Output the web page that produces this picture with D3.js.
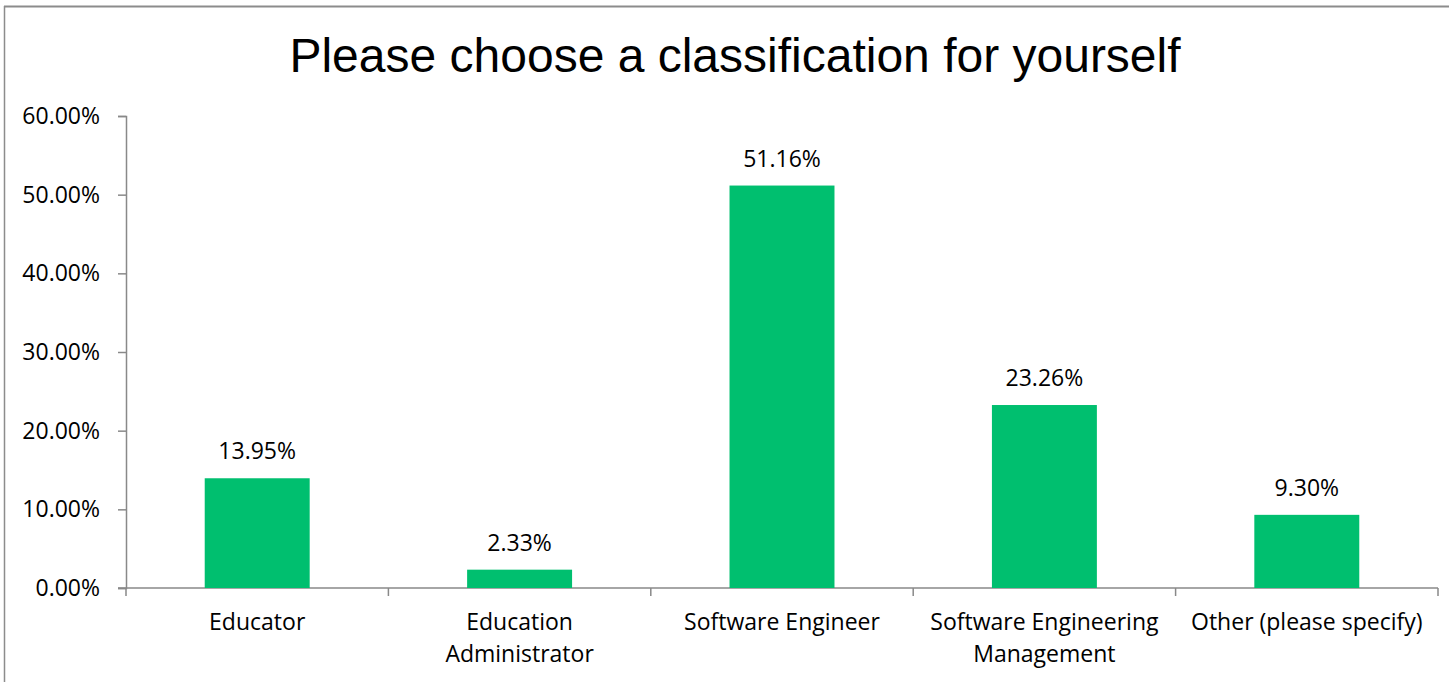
<!DOCTYPE html>
<html>
<head>
<meta charset="utf-8">
<script src="https://cdn.jsdelivr.net/npm/d3@7"></script>
<style>
  html, body { margin: 0; padding: 0; background: #fff; }
  svg { display: block; }
</style>
</head>
<body>
<svg id="chart" width="1449" height="682"></svg>
<script>
// Survey answers: share of respondents per classification
const categories = [
  ["Educator"],
  ["Education", "Administrator"],
  ["Software Engineer"],
  ["Software Engineering", "Management"],
  ["Other (please specify)"]
];
const values = [13.95, 2.33, 51.16, 23.26, 9.30];
const yTicks = [0, 10, 20, 30, 40, 50, 60];
const title = "Please choose a classification for yourself";

const svg = d3.select("#chart");
const W = 1449, H = 682;
const margin = { left: 126, right: 11, top: 116, bottom: 94 };
const labelFont = "'Open Sans', 'Noto Sans', sans-serif";
const labelSize = 23;
const barColor = "#00bf6f";
const axisColor = "#898989";

// chart frame (top and left edges visible)
svg.append("line").attr("x1", 4).attr("x2", W).attr("y1", 6.5).attr("y2", 6.5)
  .attr("stroke", "#8c8c8c").attr("stroke-width", 2);
svg.append("line").attr("x1", 4.5).attr("x2", 4.5).attr("y1", 6).attr("y2", H)
  .attr("stroke", "#8c8c8c").attr("stroke-width", 1.5);

// title
svg.append("text")
  .attr("x", 735).attr("y", 72)
  .attr("text-anchor", "middle")
  .attr("font-family", "'Liberation Sans', Arial, sans-serif")
  .attr("font-size", 48)
  .attr("fill", "#000")
  .text(title);

const x = d3.scaleBand()
  .domain(categories.map((d, i) => i))
  .range([margin.left, W - margin.right])
  .paddingInner(0.6).paddingOuter(0.3);

const y = d3.scaleLinear().domain([0, 60]).range([H - margin.bottom, margin.top]);

// y axis
const yAxis = d3.axisLeft(y).tickValues(yTicks).tickSize(8).tickPadding(18)
  .tickFormat(d => d.toFixed(2) + "%");
const gy = svg.append("g").attr("transform", `translate(${margin.left},0)`).call(yAxis);
gy.select(".domain").attr("stroke", axisColor).attr("stroke-width", 1.5);
gy.selectAll(".tick line").attr("stroke", axisColor).attr("stroke-width", 1.5);
gy.selectAll(".tick text")
  .attr("font-family", labelFont).attr("font-size", labelSize).attr("fill", "#000");

// x axis baseline and category boundary ticks
const x0 = margin.left, x1 = W - margin.right, yBase = y(0);
const step = (x1 - x0) / categories.length;
const boundaries = d3.range(categories.length + 1).map(i => x0 + i * step);
svg.append("line").attr("x1", x0 - 8).attr("x2", x1).attr("y1", yBase).attr("y2", yBase)
  .attr("stroke", axisColor).attr("stroke-width", 1.5);
svg.selectAll(".xtick").data(boundaries).enter().append("line")
  .attr("class", "xtick")
  .attr("x1", d => d).attr("x2", d => d)
  .attr("y1", yBase).attr("y2", yBase + 8)
  .attr("stroke", axisColor).attr("stroke-width", 1.5);

// bars
svg.selectAll(".bar").data(values).enter().append("rect")
  .attr("class", "bar")
  .attr("x", (d, i) => x(i))
  .attr("width", x.bandwidth())
  .attr("y", d => y(d))
  .attr("height", d => y(0) - y(d))
  .attr("fill", barColor);

// value labels
svg.selectAll(".val").data(values).enter().append("text")
  .attr("class", "val")
  .attr("x", (d, i) => x(i) + x.bandwidth() / 2)
  .attr("y", d => y(d) - 19)
  .attr("text-anchor", "middle")
  .attr("font-family", labelFont).attr("font-size", labelSize).attr("fill", "#000")
  .text(d => d.toFixed(2) + "%");

// category labels
const cat = svg.selectAll(".cat").data(categories).enter().append("text")
  .attr("class", "cat")
  .attr("text-anchor", "middle")
  .attr("font-family", labelFont).attr("font-size", labelSize).attr("fill", "#000");
cat.each(function(lines, i) {
  const t = d3.select(this);
  lines.forEach((ln, j) => {
    t.append("tspan")
      .attr("x", x(i) + x.bandwidth() / 2)
      .attr("y", 630 + j * 32)
      .text(ln);
  });
});
</script>
</body>
</html>
